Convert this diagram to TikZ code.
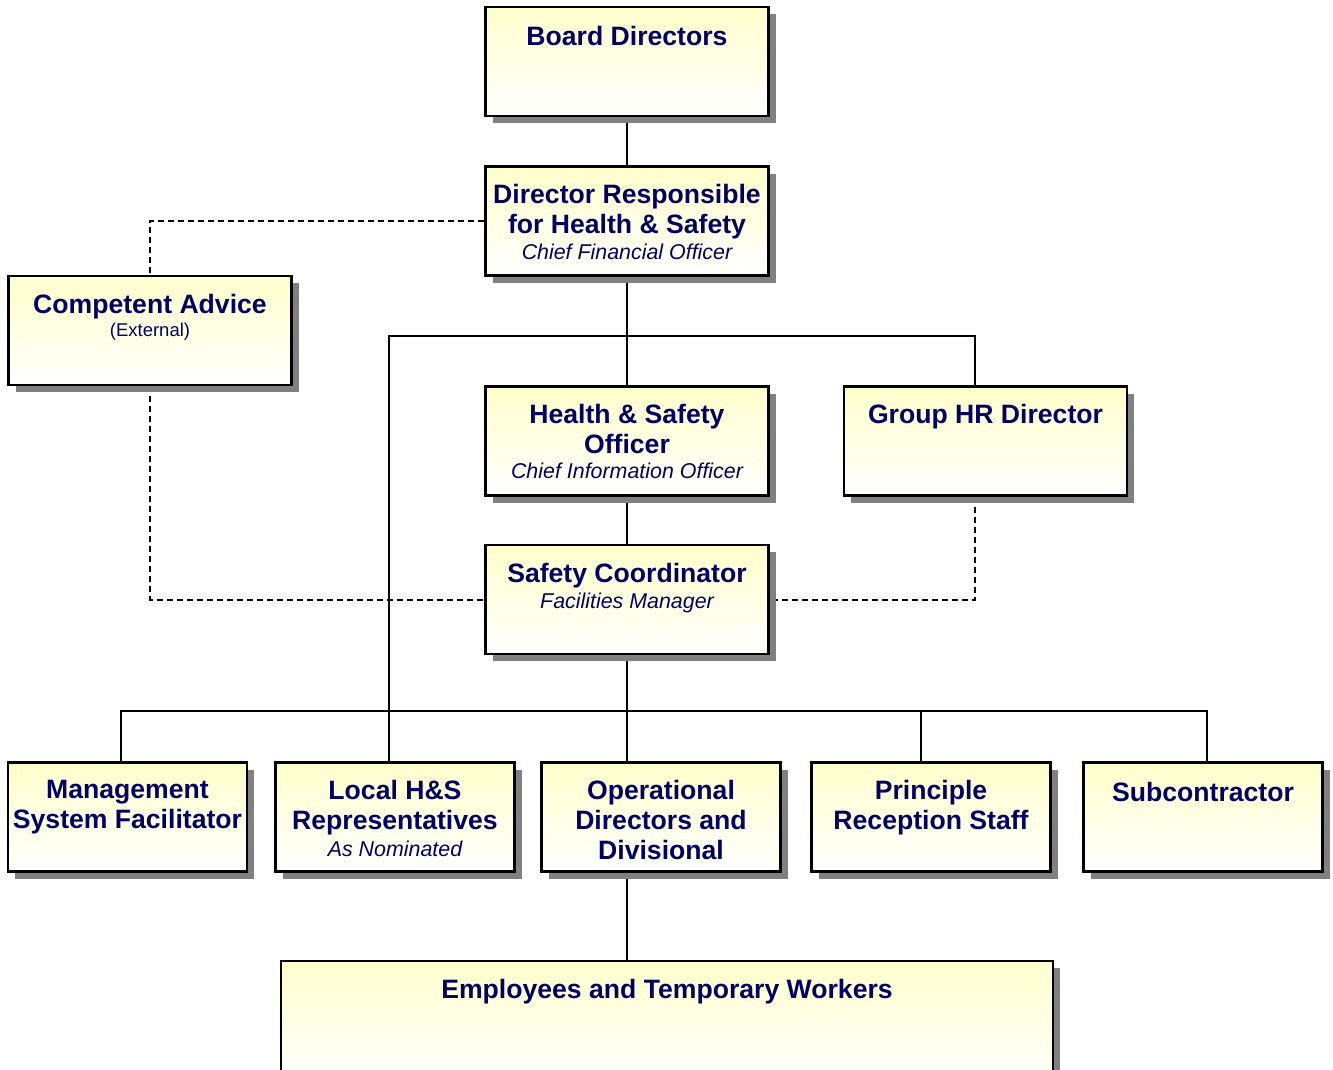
\documentclass[tikz,border=0pt]{standalone}
\usepackage{fontspec}
\setmainfont{Liberation Sans}
\usetikzlibrary{positioning,shadows,backgrounds}

\definecolor{navy}{RGB}{0,0,102}
\definecolor{boxtop}{RGB}{255,255,204}
\definecolor{shadowgray}{RGB}{128,128,128}

% second line fonts inside the boxes
\newcommand{\rolefont}{\mdseries\itshape\fontsize{21.4}{26}\selectfont}
\newcommand{\notefont}{\mdseries\fontsize{18.5}{22}\selectfont}

\begin{document}
\begin{tikzpicture}[x=1pt,y=-1pt,
    orgbox/.style={draw, line width=2.2pt, top color=boxtop, bottom color=white,
      minimum width=283pt, minimum height=109pt, inner sep=0pt,
      drop shadow={shadow xshift=7pt,shadow yshift=-7pt,fill=shadowgray,opacity=1}},
    rowbox/.style={orgbox, minimum width=239pt},
    boxtext/.style={text=navy, align=center, inner sep=0pt,
      font=\bfseries\fontsize{26.6}{30}\selectfont},
    reportline/.style={line width=2pt},
    adviceline/.style={line width=2pt, dash pattern=on 6pt off 4pt}]
  \useasboundingbox (0,0) rectangle (1333,1069);

  % upper part of the tree
  \node[orgbox] (board) at (627,61.5) {};
  \node[orgbox] (drhs) at (627,221) {};
  \node[orgbox] (advice) at (150,330.5) {};
  \node[orgbox] (hso) at (627,441) {};
  \node[orgbox] (hr) at (985.5,441) {};
  \node[orgbox] (coord) at (627,599.5) {};

  \node[boxtext, below=20.5pt of board.north] (boardtext) {Board Directors};
  \node[boxtext, below=19pt of drhs.north] (drhstext)
    {Director Responsible\\for Health \& Safety\\[-4pt]{\rolefont Chief Financial Officer}};
  \node[boxtext, below=19pt of advice.north] (advicetext)
    {Competent Advice\\[-7pt]{\notefont (External)}};
  \node[boxtext, below=19pt of hso.north] (hsotext)
    {Health \& Safety\\Officer\\[-5pt]{\rolefont Chief Information Officer}};
  \node[boxtext, below=19pt of hr.north] (hrtext) {Group HR Director};
  \node[boxtext, below=19pt of coord.north] (coordtext)
    {Safety Coordinator\\[-4pt]{\rolefont Facilities Manager}};

  % row under the safety coordinator
  \node[rowbox] (mgmt) at (127.5,817) {};
  \node[rowbox] (local) at (395,817) {};
  \node[rowbox] (oper) at (661,817) {};
  \node[rowbox] (recep) at (931,817) {};
  \node[rowbox] (sub) at (1203,817) {};
  \node[orgbox, minimum width=772pt, minimum height=120pt] (staff) at (667,1021) {};

  \node[boxtext, below=19pt of mgmt.north] (mgmttext) {Management\\System Facilitator};
  \node[boxtext, below=19pt of local.north] (localtext)
    {Local H\&S\\Representatives\\[-3pt]{\rolefont As Nominated}};
  \node[boxtext, below=19pt of oper.north] (opertext) {Operational\\Directors and\\Divisional};
  \node[boxtext, below=19pt of recep.north] (receptext) {Principle\\Reception Staff};
  \node[boxtext, below=21pt of sub.north] (subtext) {Subcontractor};
  \node[boxtext, below=19.5pt of staff.north] (stafftext) {Employees and Temporary Workers};

  \begin{scope}[on background layer]
    % reporting lines
    \draw[reportline] (board) -- (drhs);
    \draw[reportline] (drhs) -- (hso);
    \draw[reportline] (hso) -- (coord);
    \draw[reportline] (coord) -- (oper.north -| coord);
    \draw[reportline] (oper.south -| coord) -- (staff.north -| coord);
    \draw[reportline] ([xshift=-6pt]local.north) -- ++(0,-425) -| ([xshift=-10.5pt]hr.north);
    \draw[reportline] ([xshift=-6.5pt]mgmt.north) -- ++(0,-50) -| ([xshift=4pt]sub.north);
    \draw[reportline] ([xshift=-10pt]recep.north) -- ++(0,-50);

    % advisory links
    \draw[adviceline] (drhs.west) -| (advice.north);
    \draw[adviceline] (advice.south) |- (coord.west);
    \draw[adviceline] ([xshift=-10.5pt]hr.south) |- (coord.east);
  \end{scope}
\end{tikzpicture}
\end{document}
